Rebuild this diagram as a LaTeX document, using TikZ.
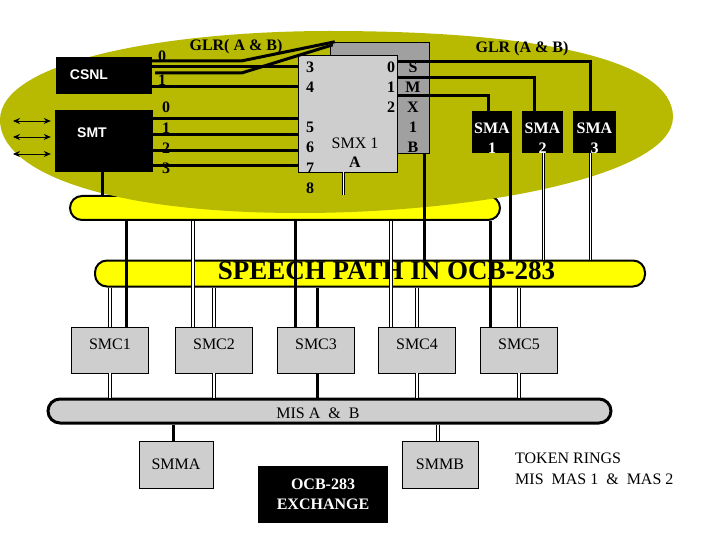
\documentclass[tikz,border=0pt]{standalone}
\usepackage{fontspec}
\setmainfont{Liberation Serif}
\setsansfont{Liberation Sans}
\usetikzlibrary{arrows.meta}
\definecolor{olivebg}{RGB}{183,186,0}
\definecolor{busyellow}{RGB}{255,255,0}
\definecolor{boxgray}{RGB}{206,206,206}
\definecolor{smxgray}{RGB}{160,160,160}
\tikzset{
  blk/.style={fill=black,text=white,inner sep=0pt,align=center},
  gbox/.style={draw,fill=boxgray,line width=.8pt,inner sep=0pt,font=\fontsize{16}{18}\selectfont},
  bus/.style={draw,line width=2pt,rounded corners=12pt,inner sep=0pt},
  pin/.style={inner sep=0pt,font=\fontsize{16}{18}\selectfont\bfseries},
  wire/.style={line width=3pt},
  dbl/.style={double=white,double distance=1.6pt,line width=.9pt},
  tip/.style={{Stealth[length=7pt,width=6pt]}-{Stealth[length=7pt,width=6pt]},line width=.8pt},
}
\begin{document}
\begin{tikzpicture}[x=1pt,y=-1pt]
\path[use as bounding box] (0,0) rectangle (720,540);
% upper bus, half hidden by the olive area
\node[bus,fill=busyellow,minimum width=430,minimum height=24] (upbus) at (285,208) {};
\fill[olivebg] (0,120) .. controls (0,60) and (170,31) .. (330,31)
  .. controls (540,31) and (673,60) .. (673,117)
  .. controls (673,175) and (480,213) .. (300,213)
  .. controls (100,213) and (0,170) .. (0,120) -- cycle;
% boxes in the olive area
\node[blk,minimum width=96,minimum height=37] (csnl) at (104,75.5) {};
\node[text=white,font=\sffamily\bfseries\fontsize{14}{16}\selectfont] (csnlt) at (89,75) {CSNL};
\node[blk,minimum width=98,minimum height=62] (smt) at (104,141) {};
\node[text=white,font=\sffamily\bfseries\fontsize{14}{16}\selectfont] (smtt) at (92,133) {SMT};
\node[draw,fill=smxgray,inner sep=0pt,minimum width=99,minimum height=111] (smxb) at (379.5,97.5) {};
\node[draw,fill=boxgray,inner sep=0pt,minimum width=99,minimum height=117] (smxa) at (347.5,113.5) {};
\node[blk,minimum width=40,minimum height=42] (sma1) at (492,132) {};
\node[blk,minimum width=41,minimum height=42] (sma2) at (542.5,132) {};
\node[blk,minimum width=43,minimum height=42] (sma3) at (594.5,132) {};
\foreach \n/\k in {sma1/1,sma2/2,sma3/3}
  \node[pin,text=white,align=center,font=\fontsize{16}{20}\selectfont\bfseries] (\n t) at ([yshift=-6pt]\n.center) {SMA\\\k};
% pin numbers
\node[pin] (glra) at (236,47) {GLR( A \& B)};
\node[pin] (glrb) at (522,49) {GLR (A \& B)};
\node[pin] (cn0) at (162,56) {0};
\node[pin] (cn1) at (162,80) {1};
\foreach \t/\y in {0/107,1/128,2/148,3/168}
  \node[pin] (st\t) at (166,\y) {\t};
\foreach \t/\y in {3/67,4/87,5/127,6/147,7/168,8/188}
  \node[pin] (xa\t) at (310,\y) {\t};
\foreach \t/\y in {0/67,1/87,2/107}
  \node[pin] (xr\t) at (391,\y) {\t};
\foreach \t/\y [count=\i] in {S/67,M/87,X/107,1/127,B/147}
  \node[pin] (xb\i) at (413,\y) {\t};
\node[pin,font=\fontsize{16}{18}\selectfont,align=center] (smxt) at (355,153) {SMX 1\\[1pt]\textbf{A}};
% lower buses and boxes
\node[bus,fill=busyellow,minimum width=550,minimum height=26] (sbus) at (370,273.5) {};
\node[font=\fontsize{27}{30}\selectfont\bfseries,inner sep=0pt] (sbust) at (386.5,271) {SPEECH PATH IN OCB-283};
\foreach \i/\x in {1/110,2/214,3/316,4/417,5/519}
  \node[gbox,minimum width=77,minimum height=46,text depth=12pt] (smc\i) at (\x,350) {SMC\i};
\node[bus,fill=boxgray,line width=3pt,minimum width=563,minimum height=24] (misbus) at (329.5,411) {};
\node[font=\fontsize{16}{18}\selectfont] (misbust) at (318,413) {MIS A\ \ \&\ \ B};
\node[gbox,minimum width=74,minimum height=47] (smma) at (176,464.5) {SMMA};
\node[gbox,minimum width=76,minimum height=47] (smmb) at (440,464.5) {SMMB};
\node[blk,minimum width=130,minimum height=57,font=\fontsize{16}{20}\selectfont\bfseries] (ocb) at (323,494.5) {OCB-283\\EXCHANGE};
\node[anchor=west,align=left,inner sep=0pt,font=\fontsize{16}{21}\selectfont] (token) at (515,468.5) {TOKEN RINGS\\MIS\ \ MAS 1\ \ \&\ \ MAS 2};
% left arrows
\foreach \y [count=\i] in {121,137,154} {
  \coordinate (la\i) at (13,\y);
  \draw[tip] (la\i) -- ([xshift=-4pt]smt.west |- la\i);
}
% CSNL and SMT to SMX 1 A
\draw[wire] ([yshift=-4pt]csnl.north east) -- ++(90,0) -- ([xshift=5pt]smxb.north west);
\draw[wire] ([yshift=-10pt]csnl.north east) coordinate (c2) -- (c2 -| smxa.west);
\draw[wire] ([xshift=3pt,yshift=-16pt]csnl.north east) -- ++(87,0) -- ([xshift=3pt,yshift=-3pt]smxb.north west);
\draw[wire] ([yshift=-30pt]csnl.north east) coordinate (c4) -- (c4 -| smxa.west);
\foreach \d in {9,25,41,56}
  \draw[wire] ([yshift=-\d pt]smt.north east) coordinate (s) -- (s -| smxa.west);
% SMX 1 A to the SMA
\draw[wire] ([yshift=-7pt]smxa.north east) -| ([xshift=-4pt]sma3.north);
\draw[wire] ([yshift=-23pt]smxa.north east) -| ([xshift=-8pt]sma2.north);
\draw[wire] ([yshift=-41pt]smxa.north east) -| ([xshift=-4pt]sma1.north);
% down to the upper bus
\draw[wire] ([xshift=-2pt]smt.south) -- ([xshift=-2pt]smt.south |- upbus.north);
\draw[dbl] ([xshift=-4pt]smxa.south) -- ([xshift=-4pt]smxa.south |- upbus.north);
% down to the speech path
\draw[wire] ([xshift=-5pt]smxb.south east) -- ([xshift=-5pt]smxb.south east |- sbus.north);
\draw[wire] ([xshift=-2pt]sma1.south east) -- ([xshift=-2pt]sma1.south east |- sbus.north);
\draw[dbl] ([xshift=1pt]sma2.south) -- ([xshift=1pt]sma2.south |- sbus.north);
\draw[dbl] ([xshift=-4pt]sma3.south) -- ([xshift=-4pt]sma3.south |- sbus.north);
% upper bus to the SMC
\draw[wire] ([xshift=16pt]smc1.north |- upbus.south) -- ([xshift=16pt]smc1.north);
\draw[dbl] ([xshift=-21pt]smc2.north |- upbus.south) -- ([xshift=-21pt]smc2.north);
\draw[wire] ([xshift=-21pt]smc3.north |- upbus.south) -- ([xshift=-21pt]smc3.north);
\draw[dbl] ([xshift=-26pt]smc4.north |- upbus.south) -- ([xshift=-26pt]smc4.north);
\draw[wire] ([xshift=-29pt]smc5.north |- upbus.south) -- ([xshift=-29pt]smc5.north);
% speech path and MIS to the SMC
\foreach \i in {1,2,4,5} {
  \draw[dbl] (smc\i.north |- sbus.south) -- (smc\i.north);
  \draw[dbl] (smc\i.south) -- (smc\i.south |- misbus.north);
}
\draw[wire] ([xshift=1pt]smc3.north |- sbus.south) -- ([xshift=1pt]smc3.north);
\draw[wire] ([xshift=1pt]smc3.south) -- ([xshift=1pt]smc3.south |- misbus.north);
% MIS to the SMM
\draw[wire] ([xshift=-3pt]smma.north |- misbus.south) -- ([xshift=-3pt]smma.north);
\draw[dbl] ([xshift=-2pt]smmb.north |- misbus.south) -- ([xshift=-2pt]smmb.north);
\end{tikzpicture}
\end{document}
